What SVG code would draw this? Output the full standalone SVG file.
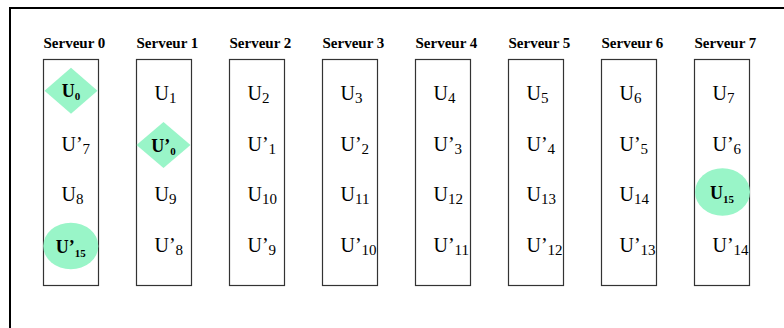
<svg xmlns="http://www.w3.org/2000/svg" width="784" height="328" viewBox="0 0 784 328">
<style>
.frame{fill:none;stroke:#000;stroke-width:2}
.box{fill:#fff;stroke:#333;stroke-width:1.2}
.mark{fill:#99F5C8;stroke:none}
text{font-family:'Liberation Serif','Times New Roman',Times,'Nimbus Roman','DejaVu Serif',serif}
.title{font-weight:bold;font-size:15px;fill:#000}
.lab{font-size:20px;fill:#000}
.lab .s{font-size:15px}
.bl{font-weight:bold;font-size:18px;fill:#000;text-anchor:middle}
.bl .s{font-size:11px}
</style>
<rect width="784" height="328" fill="#fff"/>
<rect class="frame" x="10" y="8" width="800" height="400"/>

<g id="serveur0">
<text class="title" x="43.5" y="48">Serveur 0</text>
<rect class="box" x="43.5" y="59.5" width="55" height="226"/>
<polygon class="mark" points="71,67.7 97.5,90.7 71,113.7 44.5,90.7"/>
<text class="bl" x="71" y="97">U<tspan class="s" dy="3">0</tspan></text>
<text class="lab" x="61.5" y="150.5">U’<tspan class="s" dy="3">7</tspan></text>
<text class="lab" x="61.5" y="201">U<tspan class="s" dy="3">8</tspan></text>
<ellipse class="mark" cx="70.8" cy="246" rx="27.5" ry="23.3"/>
<text class="bl" x="70.8" y="253">U’<tspan class="s" dy="4">15</tspan></text>
</g>

<g id="serveur1">
<text class="title" x="136.5" y="48">Serveur 1</text>
<rect class="box" x="136.5" y="59.5" width="55" height="226"/>
<text class="lab" x="154.5" y="99.5">U<tspan class="s" dy="3">1</tspan></text>
<polygon class="mark" points="163.5,122 190.5,145 163.5,168 136.5,145"/>
<text class="bl" x="163.5" y="151.5">U’<tspan class="s" dy="3">0</tspan></text>
<text class="lab" x="154.5" y="201">U<tspan class="s" dy="3">9</tspan></text>
<text class="lab" x="154.5" y="251.5">U’<tspan class="s" dy="3">8</tspan></text>
</g>

<g id="serveur2">
<text class="title" x="229.5" y="48">Serveur 2</text>
<rect class="box" x="229.5" y="59.5" width="55" height="226"/>
<text class="lab" x="247.5" y="99.5">U<tspan class="s" dy="3">2</tspan></text>
<text class="lab" x="247.5" y="150.5">U’<tspan class="s" dy="3">1</tspan></text>
<text class="lab" x="247.5" y="201">U<tspan class="s" dy="3">10</tspan></text>
<text class="lab" x="247.5" y="251.5">U’<tspan class="s" dy="3">9</tspan></text>
</g>

<g id="serveur3">
<text class="title" x="322.5" y="48">Serveur 3</text>
<rect class="box" x="322.5" y="59.5" width="55" height="226"/>
<text class="lab" x="340.5" y="99.5">U<tspan class="s" dy="3">3</tspan></text>
<text class="lab" x="340.5" y="150.5">U’<tspan class="s" dy="3">2</tspan></text>
<text class="lab" x="340.5" y="201">U<tspan class="s" dy="3">11</tspan></text>
<text class="lab" x="340.5" y="251.5">U’<tspan class="s" dy="3">10</tspan></text>
</g>

<g id="serveur4">
<text class="title" x="415.5" y="48">Serveur 4</text>
<rect class="box" x="415.5" y="59.5" width="55" height="226"/>
<text class="lab" x="433.5" y="99.5">U<tspan class="s" dy="3">4</tspan></text>
<text class="lab" x="433.5" y="150.5">U’<tspan class="s" dy="3">3</tspan></text>
<text class="lab" x="433.5" y="201">U<tspan class="s" dy="3">12</tspan></text>
<text class="lab" x="433.5" y="251.5">U’<tspan class="s" dy="3">11</tspan></text>
</g>

<g id="serveur5">
<text class="title" x="508.5" y="48">Serveur 5</text>
<rect class="box" x="508.5" y="59.5" width="55" height="226"/>
<text class="lab" x="526.5" y="99.5">U<tspan class="s" dy="3">5</tspan></text>
<text class="lab" x="526.5" y="150.5">U’<tspan class="s" dy="3">4</tspan></text>
<text class="lab" x="526.5" y="201">U<tspan class="s" dy="3">13</tspan></text>
<text class="lab" x="526.5" y="251.5">U’<tspan class="s" dy="3">12</tspan></text>
</g>

<g id="serveur6">
<text class="title" x="601.5" y="48">Serveur 6</text>
<rect class="box" x="601.5" y="59.5" width="55" height="226"/>
<text class="lab" x="619.5" y="99.5">U<tspan class="s" dy="3">6</tspan></text>
<text class="lab" x="619.5" y="150.5">U’<tspan class="s" dy="3">5</tspan></text>
<text class="lab" x="619.5" y="201">U<tspan class="s" dy="3">14</tspan></text>
<text class="lab" x="619.5" y="251.5">U’<tspan class="s" dy="3">13</tspan></text>
</g>

<g id="serveur7">
<text class="title" x="694.5" y="48">Serveur 7</text>
<rect class="box" x="694.5" y="59.5" width="55" height="226"/>
<text class="lab" x="712.5" y="99.5">U<tspan class="s" dy="3">7</tspan></text>
<text class="lab" x="712.5" y="150.5">U’<tspan class="s" dy="3">6</tspan></text>
<ellipse class="mark" cx="722.5" cy="192" rx="27.5" ry="23.7"/>
<text class="bl" x="722" y="198.5">U<tspan class="s" dy="4">15</tspan></text>
<text class="lab" x="712.5" y="251.5">U’<tspan class="s" dy="3">14</tspan></text>
</g>
</svg>
